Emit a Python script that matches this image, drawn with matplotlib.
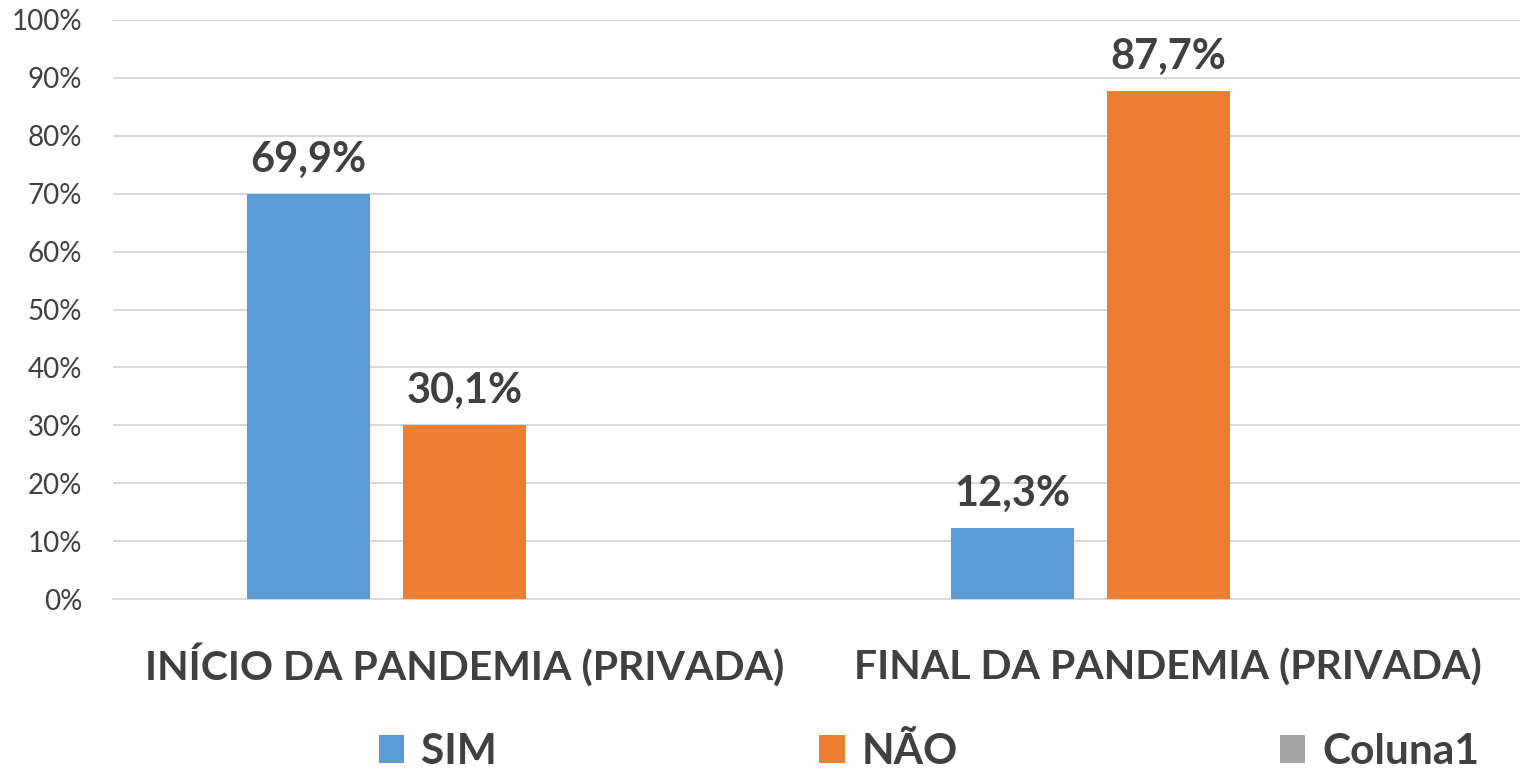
import numpy as np
import matplotlib
matplotlib.use("Agg")
import matplotlib.pyplot as plt
from matplotlib.ticker import PercentFormatter

plt.rcParams['font.family'] = ['Lato', 'DejaVu Sans']

# data
categories = ["INÍCIO DA PANDEMIA (PRIVADA)", "FINAL DA PANDEMIA (PRIVADA)"]
series_names = ["SIM", "NÃO", "Coluna1"]
sim = [69.9, 12.3]
nao = [30.1, 87.7]
coluna1 = [0, 0]
colors = ["#5B9BD5", "#ED7D31", "#A5A5A5"]

fig = plt.figure(figsize=(15.2, 7.71), dpi=100)
ax = fig.add_axes([113 / 1520, 1 - 599 / 771, (1520 - 113) / 1520, (599 - 20) / 771])

x = np.arange(len(categories))
width = 0.175
step = 0.222
text_col = "#404040"

for i, (vals, name) in enumerate(zip([sim, nao, coluna1], series_names)):
    bars = ax.bar(x + (i - 1) * step, vals, width, color=colors[i], label=name, zorder=3)
    if name != "Coluna1":
        for b, v in zip(bars, vals):
            ax.text(b.get_x() + b.get_width() / 2, v + 2.6, f"{v:.1f}%".replace(".", ","),
                    ha="center", va="bottom", fontsize=30, fontweight="bold", color=text_col)

ax.set_xlim(-0.5, 1.5)
ax.set_ylim(0, 100)
ax.set_yticks(np.arange(0, 101, 10))
ax.yaxis.set_major_formatter(PercentFormatter(decimals=0))
ax.set_xticks(x)
ax.set_xticklabels([])
ax.tick_params(axis="y", labelsize=20, labelcolor=text_col, length=0, pad=22)
ax.tick_params(axis="x", length=0)
# category labels on a common baseline
for xi, cat in zip(x, categories):
    ax.text(xi, -0.14, cat, transform=ax.get_xaxis_transform(), ha="center", va="baseline",
            fontsize=29.5, fontweight="bold", color=text_col)
ax.grid(axis="y", color="#D9D9D9", linewidth=1.5, zorder=0)
for s in ["top", "right", "left"]:
    ax.spines[s].set_visible(False)
ax.spines["bottom"].set_color("#D9D9D9")
ax.spines["bottom"].set_linewidth(1.5)

leg = ax.legend(loc="center", bbox_to_anchor=(0.58, -0.264), ncol=3, frameon=False,
                prop={"size": 30.5, "weight": "bold"}, handlelength=0.6, handleheight=0.65,
                handletextpad=0.4, columnspacing=7.6, borderpad=0, borderaxespad=0)
for t in leg.get_texts():
    t.set_color(text_col)

fig.savefig("out.png", dpi=100)
